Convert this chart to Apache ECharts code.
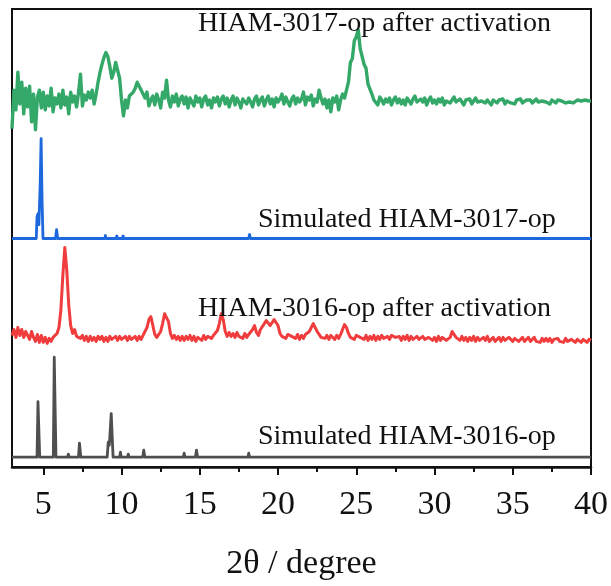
<!DOCTYPE html>
<html>
<head>
<meta charset="utf-8">
<script src="https://cdn.jsdelivr.net/npm/echarts@6/dist/echarts.min.js"></script>
<style>
  html, body { margin: 0; padding: 0; background: #fff; }
  #chart { width: 611px; height: 586px; }
</style>
</head>
<body>
<div id="chart"></div>
<script>
  // x range and tick labels
  const xMin = 3;
  const xMax = 40;
  const majorTicks = [5, 10, 15, 20, 25, 30, 35, 40];
  const minorTicks = [7.5, 12.5, 17.5, 22.5, 27.5, 32.5, 37.5];

  // measured scans: 3.0 -> 40.0 deg, step 0.125 deg (intensity above baseline)
  const scanStart = 3;
  const scanStep = 0.125;

  const hiam3017Activated = [
    -27, 12, -8, 30, -2, 20, -12, 14,
    -5, 16, -20, 8, -28, 5, 12, -6,
    10, -8, 6, -4, 14, -10, 4, -2,
    8, -6, 12, -3, 5, -12, 10, 0,
    6, -5, 9, 28, -4, 7, 2, 10,
    4, 12, -2, 8, 20, 30, 38, 45,
    50, 46, 36, 24, 30, 40, 42, 24,
    2, -14, 2, -6, 6, 4, 10, 14,
    20, 16, 12, 8, 4, 10, -4, 2,
    6, -3, 8, 2, -6, 10, 4, 22,
    2, -5, 6, 0, 8, -4, 3, 6,
    -2, 5, -6, 4, 2, -4, 6, 0,
    4, -5, 3, 6, -3, 2, -6, 4,
    0, 5, -4, 3, 6, -2, 4, -5,
    2, 6, -3, 4, 0, -6, 3, 5,
    -2, 4, 0, -5, 3, 6, -3, 2,
    5, -4, 2, 6, -2, 3, -5, 4,
    0, 3, 8, -2, 5, 0, -4, 3,
    6, -2, 4, 0, 3, 10, -3, 5,
    2, 7, -4, 3, 0, 12, 4, -2,
    3, -6, 2, -10, 4, 0, 6, -8,
    2, 8, 4, 12, 20, 40, 44, 62,
    66, 73, 54, 56, 38, 34, 18, 16,
    8, 2, 4, -3, 5, 2, -2, 3,
    0, 4, -3, 2, 5, -1, 3, -2,
    2, -3, 4, 1, -2, 3, 6, 0,
    -2, 3, 0, 4, -3, 2, 5, -1,
    2, -2, 3, 0, 4, -3, 1, 3,
    -1, 2, 5, 0, -2, 3, 1, -3,
    2, 0, 3, -2, 1, 4, 0, -2,
    1, 3, -1, 2, 0, -3, 2, 1,
    -1, 2, 0, 3, -2, 1, 2, -1,
    1, -2, 2, 0, 3, -1, 1, 2,
    0, 2, -1, 1, 3, 0, -2, 1,
    2, 0, 1, -2, 2, 1, -1, 2,
    0, 1, 3, -1, 1, 0, 2, -1,
    1, 2, 0, 1, -1, 2, 0, 1,
    1
  ];

  const hiam3016Activated = [
    4, 10, 2, 12, 4, 10, 2, 8,
    6, 0, 8, 2, -2, 5, -3, 4,
    -3, 2, -4, 1, -2, 2, 1, 6,
    12, 30, 65, 93, 70, 35, 14, 6,
    10, 3, 5, 1, 4, -1, 3, -2,
    3, -1, 2, -2, 3, 0, 3, -2,
    2, -2, 3, 0, -2, 3, -1, 3,
    0, -2, 3, -1, 3, 0, -2, 3,
    -1, 3, 0, 4, 6, 12, 20, 23,
    14, 5, 2, 4, 8, 16, 26, 28,
    18, 6, 1, 4, 0, 3, -1, 3,
    -1, 3, 0, 4, -1, 3, -2, 2,
    3, -1, 4, 0, 3, 5, 1, 4,
    5, 9, 16, 26, 20, 8, 3, 7,
    3, 6, 2, 7, 3, 5, 1, 6,
    2, 5, 7, 10, 14, 7, 4, 10,
    12, 16, 19, 20, 14, 16, 20, 22,
    14, 6, 3, 5, 1, 5, 7, 3,
    4, 1, 5, 0, 4, 1, 5, 6,
    8, 12, 16, 17, 8, 5, 2, 4,
    1, 4, 0, 4, 2, 0, 4, 1,
    5, 10, 15, 12, 6, 2, 4, 0,
    4, 6, 2, 4, 0, 4, -1, 3,
    0, 4, -1, 3, 0, 4, 1, -1,
    3, 0, 4, 6, 2, 0, 3, -1,
    3, 0, 4, -1, 3, 0, -1, 3,
    0, -1, 3, 0, -2, 2, 3, -1,
    2, -2, 3, -1, 2, 3, -1, -2,
    2, 8, 6, 2, 0, -1, 3, -1,
    2, -2, 2, -1, 3, -2, 2, -1,
    -2, 2, -1, 3, -2, 0, 2, -2,
    0, 2, -2, 2, -1, -2, 2, 0,
    -2, 1, 2, -2, 0, 2, -2, 0,
    2, -2, 0, 2, -2, 0, -3, 1,
    -2, 1, -2, 1, -3, 0, -2, 1,
    -2, 0, -3, 1, -2, -3, 0, -2,
    -3, 0, -2, -3, 0, -2, -3, 0,
    -1
  ];

  // simulated patterns [2theta, intensity]
  const simulated3017 = [
    [3, 0], [4.55, 0], [4.6, 22], [4.66, 25], [4.72, 14], [4.8, 55], [4.86, 101], [4.92, 40], [4.98, 0],
    [5.78, 0], [5.85, 9], [5.92, 0],
    [6.57, 0], [6.6, 2], [6.63, 0],
    [8.93, 0], [8.97, 3], [9.01, 0],
    [9.65, 0], [9.7, 2.5], [9.75, 0],
    [10.05, 0], [10.1, 2.5], [10.15, 0],
    [10.45, 0], [10.5, 2], [10.55, 0],
    [10.95, 0], [11.0, 2], [11.05, 0],
    [11.3, 0], [11.35, 2], [11.4, 0],
    [12.95, 0], [13.0, 1.5], [13.05, 0],
    [18.12, 0], [18.18, 4], [18.24, 0],
    [22.95, 0], [23.0, 1], [23.05, 0],
    [40, 0]
  ];

  const simulated3016 = [
    [3, 0], [4.6, 0], [4.66, 56], [4.71, 56], [4.77, 0],
    [5.64, 0], [5.7, 101], [5.75, 101], [5.81, 0],
    [6.55, 0], [6.6, 3], [6.65, 0],
    [7.25, 0], [7.31, 14], [7.34, 14], [7.4, 0],
    [9.08, 0], [9.15, 15], [9.22, 12], [9.34, 44], [9.38, 44], [9.46, 0],
    [9.88, 0], [9.93, 5], [9.98, 0],
    [10.38, 0], [10.43, 3], [10.48, 0],
    [11.35, 0], [11.42, 7], [11.49, 0],
    [13.15, 0], [13.2, 1.5], [13.25, 0],
    [13.45, 0], [13.5, 1.5], [13.55, 0],
    [13.95, 0], [14.0, 4], [14.05, 0],
    [14.72, 0], [14.79, 7], [14.86, 0],
    [18.08, 0], [18.13, 4], [18.18, 0],
    [20.31, 0], [20.36, 2], [20.41, 0],
    [40, 0]
  ];

  const labels = [
    'HIAM-3017-op after activation',
    'Simulated HIAM-3017-op',
    'HIAM-3016-op after activation',
    'Simulated HIAM-3016-op'
  ];

  // vertical stacking offsets
  const offsets = { green: 369, blue: 231, red: 129, gray: 10 };

  const scanToPoints = (values, offset) =>
    values.map((v, i) => [scanStart + i * scanStep, v + offset]);
  const shiftPoints = (points, offset) => points.map(([x, y]) => [x, y + offset]);

  const font = '"Liberation Serif", "Times New Roman", serif';

  const chart = echarts.init(document.getElementById('chart'));

  const lineSeries = (data, color, width) => ({
    type: 'line',
    data,
    showSymbol: false,
    symbol: 'none',
    animation: false,
    lineStyle: { color, width, join: 'round' },
    z: 3
  });

  const labelText = (text, left, top) => ({
    type: 'text',
    left,
    top,
    z: 10,
    style: { text, font: `28px ${font}`, fill: '#111' }
  });

  chart.setOption({
    animation: false,
    grid: {
      left: 12,
      right: 20,
      top: 9,
      bottom: 114,
      show: true,
      borderColor: '#111',
      borderWidth: 2,
      backgroundColor: '#fff'
    },
    xAxis: [
      {
        type: 'value',
        min: xMin,
        max: xMax,
        name: '2θ / degree',
        nameLocation: 'middle',
        nameGap: 80,
        nameTextStyle: { fontFamily: font, fontSize: 34, color: '#111' },
        axisLine: { show: true, lineStyle: { color: '#111', width: 2.5 } },
        axisTick: { show: true, customValues: majorTicks, length: 8, lineStyle: { color: '#111', width: 2 } },
        axisLabel: { customValues: majorTicks, fontFamily: font, fontSize: 34, color: '#111', margin: 21 },
        splitLine: { show: false }
      },
      {
        type: 'value',
        min: xMin,
        max: xMax,
        position: 'bottom',
        axisLine: { show: false },
        axisTick: { show: true, customValues: minorTicks, length: 5, lineStyle: { color: '#111', width: 2 } },
        axisLabel: { show: false },
        splitLine: { show: false }
      }
    ],
    yAxis: {
      type: 'value',
      min: 0,
      max: 463,
      show: false
    },
    series: [
      lineSeries(shiftPoints(simulated3016, offsets.gray), '#4f4f4f', 2.8),
      lineSeries(scanToPoints(hiam3016Activated, offsets.red), '#f03c3c', 3),
      lineSeries(shiftPoints(simulated3017, offsets.blue), '#1c68dc', 2.8),
      lineSeries(scanToPoints(hiam3017Activated, offsets.green), '#33a868', 3.4)
    ],
    graphic: [
      labelText(labels[0], 198, 10),
      labelText(labels[1], 258, 206),
      labelText(labels[2], 198, 295),
      labelText(labels[3], 258, 423)
    ]
  });
</script>
</body>
</html>
